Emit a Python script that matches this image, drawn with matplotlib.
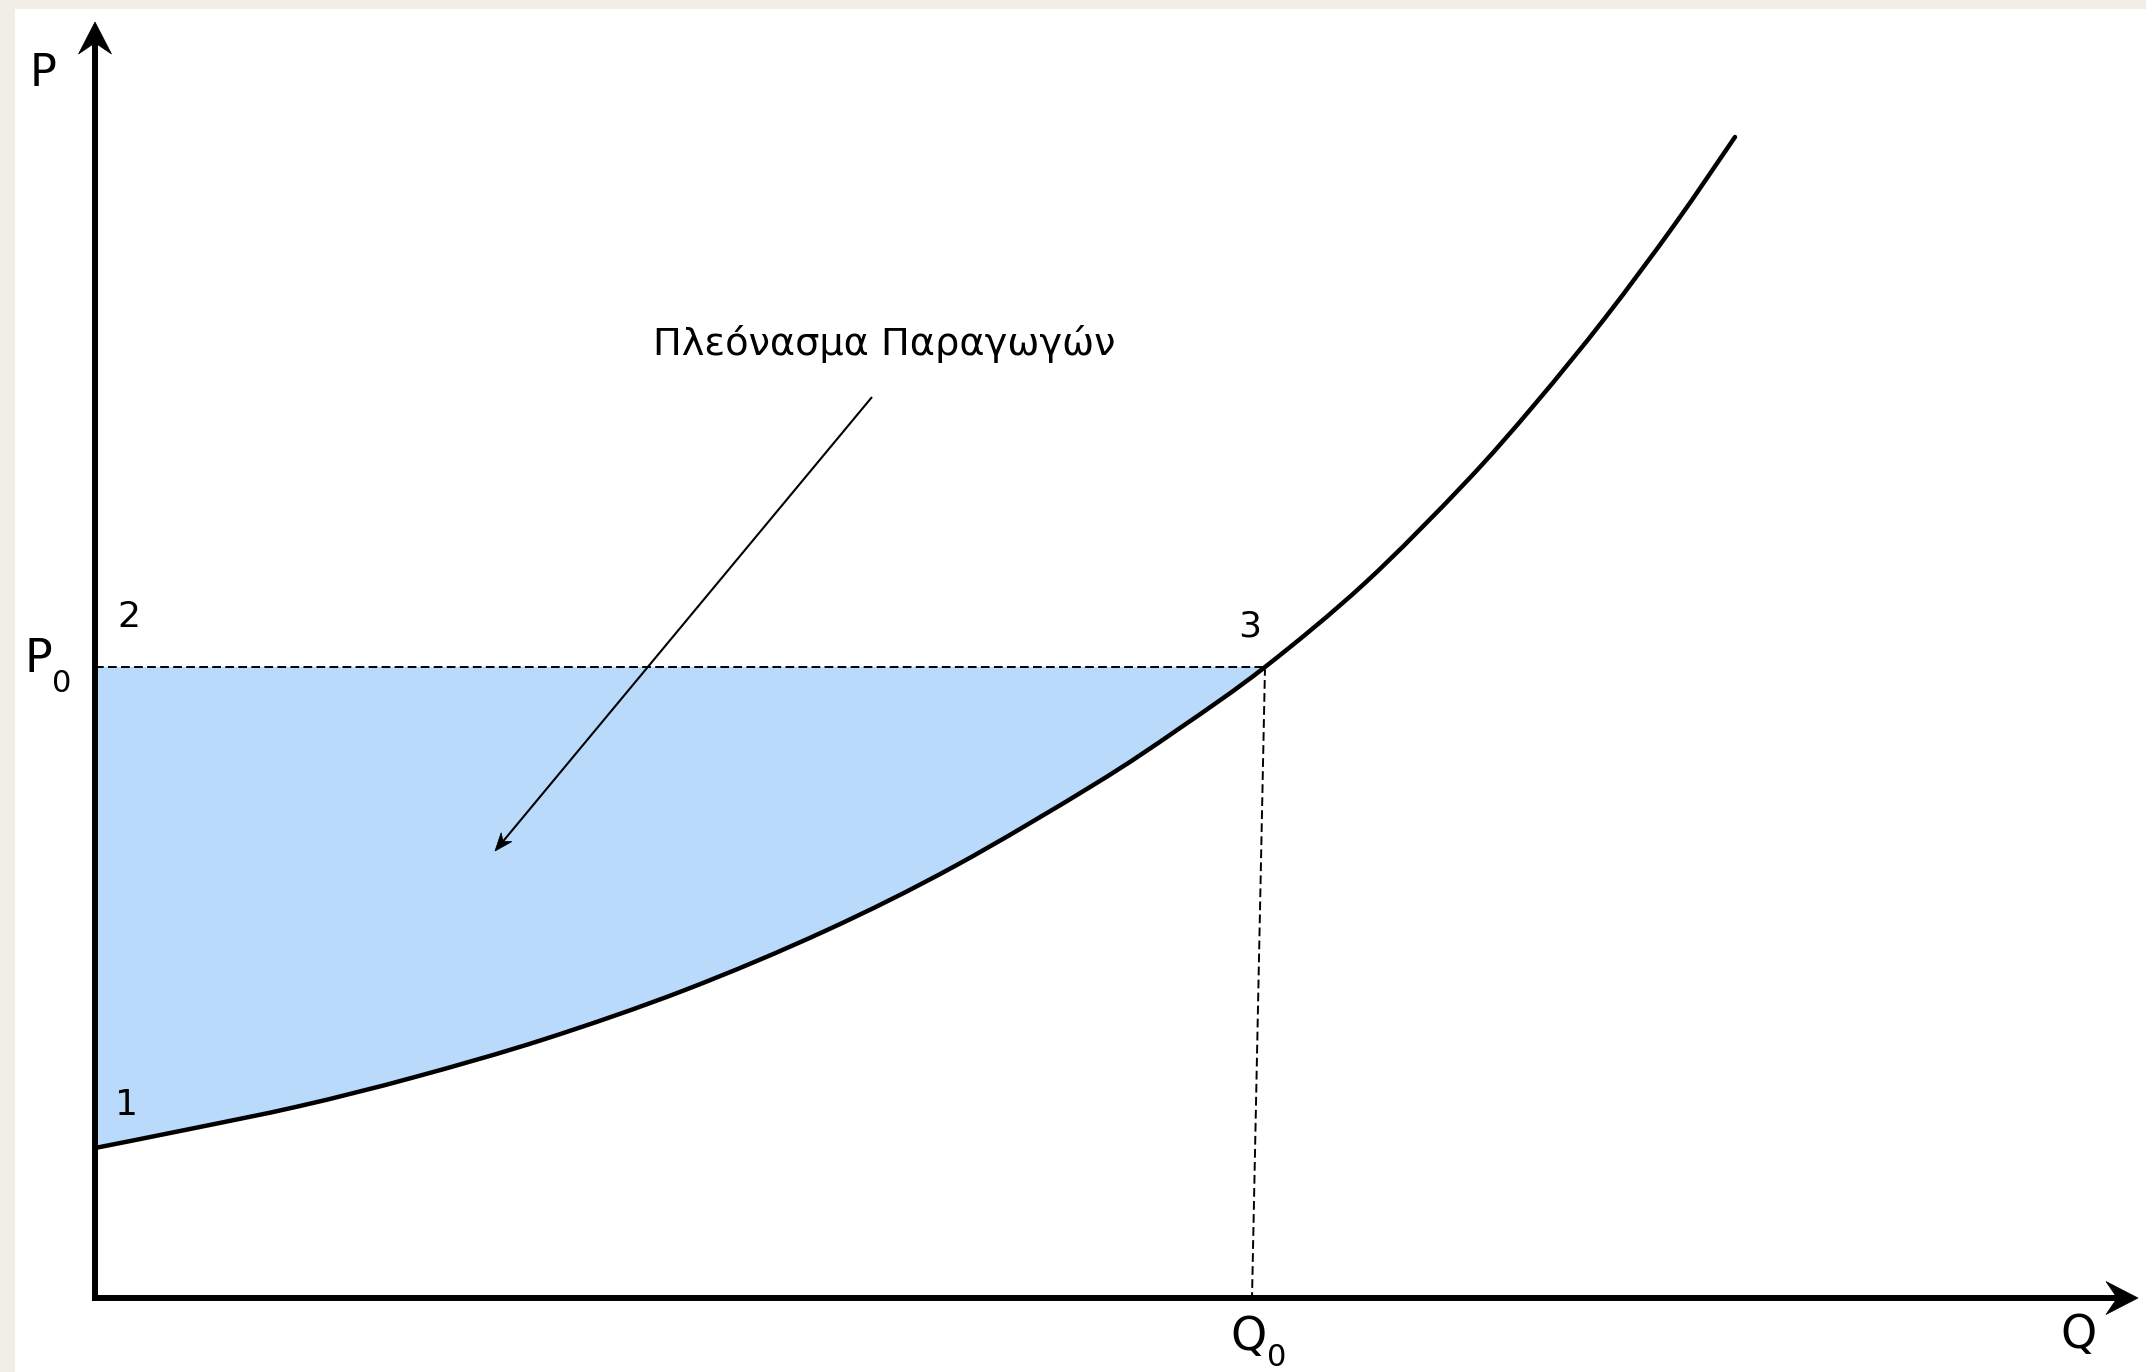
import matplotlib.pyplot as plt
import numpy as np
from matplotlib.patches import Polygon, Rectangle, PathPatch
from matplotlib.path import Path

# supply curve (Q, P in chart units)
q_curve = [0, 0.9, 2.05, 3.2, 4.5, 5.9, 7.3, 8.6, 10.0, 10.85, 11.7,
           12.7, 13.7, 14.4, 15.1, 15.8, 16.4]
p_curve = [1.50, 1.68, 1.92, 2.21, 2.59, 3.08, 3.67, 4.32, 5.14, 5.70, 6.31,
           7.15, 8.15, 8.94, 9.80, 10.74, 11.61]

q0 = 11.7
q0_foot = 11.57
p0 = 6.31

surplus_label = "Πλεόνασμα Παραγωγών"
point_labels = ["1", "2", "3"]


def smooth_path(xs, ys):
    # Catmull-Rom through the read points, drawn as cubic bezier segments
    pts = np.column_stack([xs, ys]).astype(float)
    ext = np.vstack([pts[0], pts, pts[-1]])
    verts = [pts[0]]
    codes = [Path.MOVETO]
    for i in range(1, len(ext) - 2):
        a, b, c, d = ext[i - 1], ext[i], ext[i + 1], ext[i + 2]
        verts += [b + (c - a) / 6, c - (d - b) / 6, c]
        codes += [Path.CURVE4] * 3
    return verts, codes


def arrow(ax, x0, y0, x1, y1, lw, head_len, head_w, notch):
    # line plus a notched arrow head, lengths in data units
    d = np.array([x1 - x0, y1 - y0], dtype=float)
    d = d / np.hypot(*d)
    n = np.array([-d[1], d[0]])
    tip = np.array([x1, y1])
    back = tip - d * head_len
    mid = tip - d * head_len * (1 - notch)
    ax.plot([x0, mid[0]], [y0, mid[1]], color="black", lw=lw,
            solid_capstyle="butt", zorder=4)
    ax.add_patch(Polygon([tip, back + n * head_w, mid, back - n * head_w],
                         closed=True, facecolor="black", edgecolor="black",
                         lw=0.5, zorder=5))


fig = plt.figure(figsize=(21.46, 13.72), dpi=100, facecolor="#F1EEE8")
fig.patches.append(Rectangle((15 / 2146, 0), 1, 1 - 9 / 1372,
                             transform=fig.transFigure, facecolor="white",
                             edgecolor="none", zorder=-1))
ax = fig.add_axes([0, 0, 1, 1])
ax.set_xlim(-0.95, 20.51)
ax.set_ylim(-0.74, 12.98)
ax.axis("off")
ax.patch.set_alpha(0)

verts, codes = smooth_path(q_curve, p_curve)

# producer surplus: box under P0 clipped to the region above the curve
above = Path(verts + [(q_curve[-1], 13), (q_curve[0], 13), verts[0]],
             codes + [Path.LINETO, Path.LINETO, Path.CLOSEPOLY])
clip = PathPatch(above, transform=ax.transData, visible=False)
ax.add_patch(clip)
box = Rectangle((0, 0), q0, p0, facecolor="#B9DAFB", lw=0, zorder=1)
ax.add_patch(box)
box.set_clip_path(clip)

ax.add_patch(PathPatch(Path(verts, codes), facecolor="none", edgecolor="black",
                       lw=3.2, capstyle="round", zorder=3))

ax.plot([0, q0], [p0, p0], color="black", lw=1.4, ls=(0, (4.5, 2.2)), zorder=2)
ax.plot([q0, q0_foot], [p0, 0], color="black", lw=1.4, ls=(0, (4.5, 2.2)), zorder=2)

# axes with arrow heads
arrow(ax, 0, -0.03, 0, 12.76, 4.3, 0.32, 0.165, 0.35)
arrow(ax, -0.03, 0, 20.43, 0, 4.3, 0.32, 0.165, 0.35)

# annotation arrow
ax.text(7.89, 9.54, surplus_label, fontsize=27.5, ha="center", va="center")
arrow(ax, 7.77, 9.01, 4.0, 4.47, 1.5, 0.18, 0.07, 0.3)

txt = dict(ha="center", va="center", color="black")
ax.text(-0.52, 12.25, "P", fontsize=32, **txt)
ax.text(-0.565, 6.385, "P", fontsize=33, **txt)
ax.text(-0.335, 6.15, "0", fontsize=22, **txt)
ax.text(11.535, -0.40, "Q", fontsize=33, **txt)
ax.text(11.82, -0.60, "0", fontsize=22, **txt)
ax.text(19.835, -0.37, "Q", fontsize=33, **txt)

ax.text(0.315, 1.93, point_labels[0], fontsize=26, **txt)
ax.text(0.34, 6.815, point_labels[1], fontsize=26, **txt)
ax.text(11.545, 6.72, point_labels[2], fontsize=26, **txt)

fig.savefig("out.png", dpi=100, facecolor=fig.get_facecolor())
